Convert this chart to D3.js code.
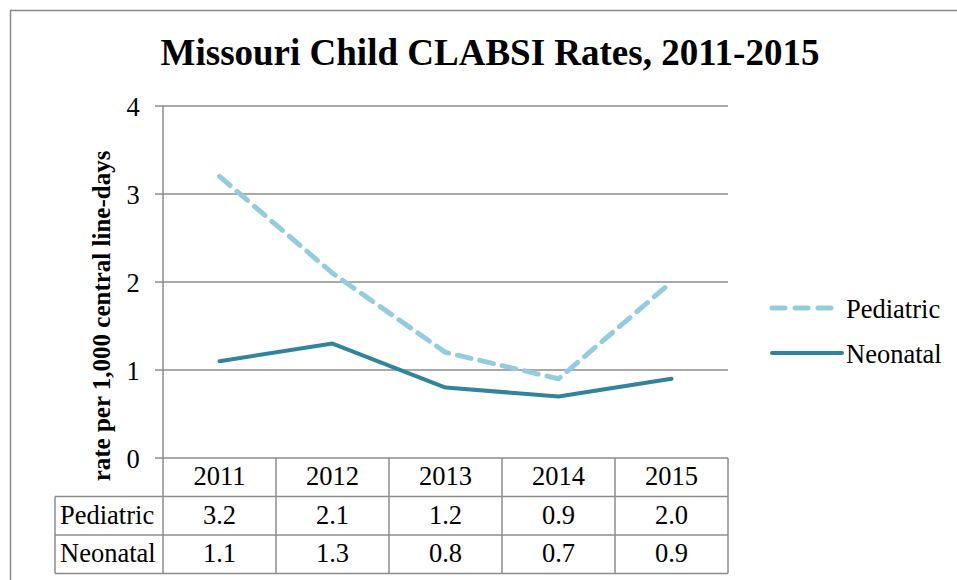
<!DOCTYPE html>
<html>
<head>
<meta charset="utf-8">
<script src="https://cdn.jsdelivr.net/npm/d3@7"></script>
<style>
  body { margin: 0; background: #fff; }
</style>
</head>
<body>
<svg width="957" height="580" font-family="'Liberation Serif', 'Times New Roman', Times, serif"></svg>
<script>
const years = ["2011", "2012", "2013", "2014", "2015"];
const pediatric = [3.2, 2.1, 1.2, 0.9, 2.0];
const neonatal = [1.1, 1.3, 0.8, 0.7, 0.9];
const yTicks = [0, 1, 2, 3, 4];

const series = [
  { name: "Pediatric", values: pediatric, color: "#93cddd", width: 5, dash: "14,9" },
  { name: "Neonatal", values: neonatal, color: "#31849b", width: 4, dash: null }
];

const serif = "'Liberation Serif', 'Times New Roman', Times, serif";
const fs = "26.5px";
const svg = d3.select("svg");

// outer chart border
svg.append("rect")
  .attr("x", 10.5).attr("y", 10.5)
  .attr("width", 960).attr("height", 600)
  .attr("fill", "none").attr("stroke", "#888").attr("stroke-width", 1.5);

svg.append("text")
  .attr("x", 490).attr("y", 65)
  .attr("text-anchor", "middle")
  .attr("font-family", serif)
  .style("font-size", "37px").style("font-weight", "bold")
  .text("Missouri Child CLABSI Rates, 2011-2015");

const plotLeft = 163, plotRight = 728, plotTop = 106, plotBottom = 458;

const x = d3.scaleBand().domain(years).range([plotLeft, plotRight]);
const y = d3.scaleLinear().domain([0, 4]).range([plotBottom, plotTop]);

// gridlines
svg.append("g").selectAll("line")
  .data(yTicks)
  .enter().append("line")
  .attr("x1", plotLeft - 8).attr("x2", plotRight)
  .attr("y1", d => y(d)).attr("y2", d => y(d))
  .attr("stroke", "#8c8c8c").attr("stroke-width", 1.5);

svg.append("line")
  .attr("x1", plotLeft).attr("x2", plotLeft)
  .attr("y1", plotTop).attr("y2", plotBottom)
  .attr("stroke", "#8c8c8c").attr("stroke-width", 1.5);

svg.append("g").selectAll("text")
  .data(yTicks)
  .enter().append("text")
  .attr("x", 133).attr("y", d => y(d) + 10)
  .attr("text-anchor", "middle")
  .attr("font-family", serif)
  .style("font-size", fs)
  .text(d => d);

svg.append("text")
  .attr("transform", "translate(110," + 316 + ") rotate(-90)")
  .attr("text-anchor", "middle")
  .attr("font-family", serif)
  .style("font-size", "25px").style("font-weight", "bold")
  .text("rate per 1,000 central line-days");

// lines
const line = d3.line()
  .x((d, i) => x(years[i]) + x.bandwidth() / 2)
  .y(d => y(d));

svg.append("g").selectAll("path")
  .data(series)
  .enter().append("path")
  .attr("d", d => line(d.values))
  .attr("fill", "none")
  .attr("stroke", d => d.color)
  .attr("stroke-width", d => d.width)
  .attr("stroke-dasharray", d => d.dash)
  .attr("stroke-linecap", "round")
  .attr("stroke-linejoin", "round");

// legend
const legend = svg.append("g").selectAll("g")
  .data(series)
  .enter().append("g")
  .attr("transform", (d, i) => "translate(772," + (308 + i * 45) + ")");

legend.append("line")
  .attr("x1", 0).attr("x2", d => d.dash ? 60 : 70)
  .attr("stroke", d => d.color)
  .attr("stroke-width", d => d.width)
  .attr("stroke-dasharray", d => d.dash ? "13,10" : null)
  .attr("stroke-linecap", "round");

legend.append("text")
  .attr("x", 74).attr("y", 10)
  .attr("font-family", serif)
  .style("font-size", fs)
  .text(d => d.name);

// data table
const rowH = 38.5, labelLeft = 55;
const tbl = svg.append("g");
const rowTop = [plotBottom, plotBottom + rowH, plotBottom + 2 * rowH, plotBottom + 3 * rowH];

// horizontal lines
tbl.selectAll("line.h")
  .data(rowTop.slice(1))
  .enter().append("line")
  .attr("class", "h")
  .attr("x1", labelLeft).attr("x2", plotRight)
  .attr("y1", d => d).attr("y2", d => d)
  .attr("stroke", "#8c8c8c").attr("stroke-width", 1.5);

// vertical lines
const vx = years.map(d => x(d)).concat([plotRight]);
tbl.selectAll("line.v")
  .data(vx)
  .enter().append("line")
  .attr("class", "v")
  .attr("x1", d => d).attr("x2", d => d)
  .attr("y1", plotBottom).attr("y2", rowTop[3])
  .attr("stroke", "#8c8c8c").attr("stroke-width", 1.5);
tbl.append("line")
  .attr("x1", labelLeft).attr("x2", labelLeft)
  .attr("y1", rowTop[1]).attr("y2", rowTop[3])
  .attr("stroke", "#8c8c8c").attr("stroke-width", 1.5);

tbl.selectAll("text.yr")
  .data(years)
  .enter().append("text")
  .attr("class", "yr")
  .attr("x", d => x(d) + x.bandwidth() / 2)
  .attr("y", rowTop[0] + 27)
  .attr("text-anchor", "middle")
  .attr("font-family", serif)
  .style("font-size", fs)
  .text(d => d);

series.forEach((s, r) => {
  tbl.append("text")
    .attr("x", labelLeft + 5)
    .attr("y", rowTop[r + 1] + 27)
    .attr("font-family", serif)
    .style("font-size", fs)
    .text(s.name);
  tbl.selectAll("text.v" + r)
    .data(s.values)
    .enter().append("text")
    .attr("class", "v" + r)
    .attr("x", (d, i) => x(years[i]) + x.bandwidth() / 2)
    .attr("y", rowTop[r + 1] + 27)
    .attr("text-anchor", "middle")
    .attr("font-family", serif)
    .style("font-size", fs)
    .text(d => d.toFixed(1));
});
</script>
</body>
</html>
